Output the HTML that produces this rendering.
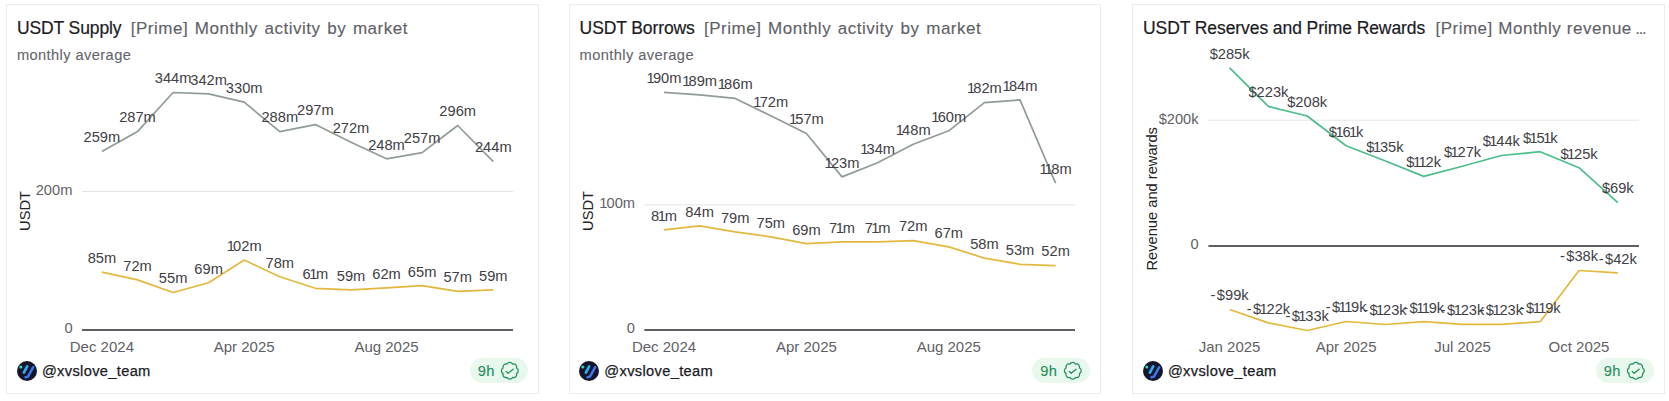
<!DOCTYPE html>
<html lang="en">
<head>
<meta charset="utf-8">
<title>USDT Prime charts</title>
<style>
html,body{margin:0;padding:0;background:#fff;}
body{width:1669px;height:401px;position:relative;overflow:hidden;font-family:"Liberation Sans",sans-serif;}
.card{position:absolute;top:4px;width:533px;height:390px;box-sizing:border-box;border:1px solid #ebebee;background:#fff;}
.title{position:absolute;top:18.3px;font-size:17.5px;letter-spacing:-0.1px;line-height:20px;white-space:nowrap;color:#1b1b1f;-webkit-text-stroke:0.2px #1b1b1f;}
.title .sub{color:#606067;-webkit-text-stroke:0.12px #606067;font-size:17px;letter-spacing:0.5px;word-spacing:1.5px;margin-left:9.3px;}
.ell{font-size:10.5px;font-weight:bold;letter-spacing:0;margin-left:-1.5px;}
.desc{position:absolute;top:46px;font-size:14.67px;line-height:18px;color:#64646b;-webkit-text-stroke:0.1px #64646b;letter-spacing:0.4px;white-space:nowrap;}
svg.chart{position:absolute;left:0;top:0;}
.dl{font-size:14.67px;fill:#404046;}
.ax{font-size:14.67px;fill:#5f5f66;}
.xl{font-size:15px;}
.yt{font-size:14.67px;fill:#222226;}
.grid{stroke:#e4e4e6;stroke-width:1;}
.axis{stroke:#5e5e65;stroke-width:2;}
.av{position:absolute;}
.user{position:absolute;font-size:14.67px;line-height:20px;color:#1b1b1f;letter-spacing:0.33px;-webkit-text-stroke:0.25px #1b1b1f;white-space:nowrap;}
.badge{position:absolute;width:58px;height:25px;border-radius:13px;background:#e9f8ec;color:#1f8f5f;font-size:14.67px;box-sizing:border-box;}
.badge span{position:absolute;left:7.8px;top:3.8px;line-height:18px;letter-spacing:0.3px;-webkit-text-stroke:0.12px #1f8f5f;}
.badge svg{position:absolute;left:30.2px;top:3.1px;}
</style>
</head>
<body>
<div class="card" style="left:6px"></div>
<div class="card" style="left:569px;width:532px"></div>
<div class="card" style="left:1132px"></div>

<div class="title" style="left:16.9px">USDT Supply<span class="sub">[Prime] Monthly activity by market</span></div>
<div class="desc" style="left:16.9px">monthly average</div>
<div class="title" style="left:579.6px">USDT Borrows<span class="sub">[Prime] Monthly activity by market</span></div>
<div class="desc" style="left:579.6px">monthly average</div>
<div class="title" style="left:1143.0px"><span style="letter-spacing:-0.08px">USDT Reserves and Prime Rewards</span><span class="sub" style="margin-left:10.3px;word-spacing:0.3px">[Prime] Monthly revenue <span class="ell">…</span></span></div>

<svg class="chart" width="1669" height="401" viewBox="0 0 1669 401" font-family="'Liberation Sans',sans-serif">

<line x1="82" x2="513" y1="191.5" y2="191.5" class="grid"/>
<line x1="82" x2="513" y1="330" y2="330" class="axis"/>
<text x="72.4" y="195" text-anchor="end" class="ax">200m</text>
<text x="72.6" y="333" text-anchor="end" class="ax">0</text>
<text transform="translate(30,211) rotate(-90)" text-anchor="middle" class="yt">USDT</text>
<text x="101.9" y="352.1" text-anchor="middle" class="ax xl">Dec 2024</text>
<text x="244.2" y="352.1" text-anchor="middle" class="ax xl">Apr 2025</text>
<text x="386.5" y="352.1" text-anchor="middle" class="ax xl">Aug 2025</text>
<polyline points="101.9,151.5 137.5,131.6 173.1,92.5 208.6,93.9 244.2,102.2 279.8,131.6 315.4,124.6 351.0,142.2 386.5,158.8 422.1,152.6 457.7,125.5 493.3,161.6" fill="none" stroke="#909c98" stroke-width="1.7" stroke-linejoin="round"/>
<polyline points="101.9,272.2 137.5,279.9 173.1,292.5 208.6,282.7 244.2,260.0 279.8,276.8 315.4,288.3 351.0,289.9 386.5,287.8 422.1,285.7 457.7,291.3 493.3,289.9" fill="none" stroke="#e3b83d" stroke-width="1.7" stroke-linejoin="round"/>
<text x="101.9" y="142.3" text-anchor="middle" class="dl">259m</text>
<text x="137.5" y="122.4" text-anchor="middle" class="dl">287m</text>
<text x="173.1" y="83.3" text-anchor="middle" class="dl">344m</text>
<text x="208.6" y="84.7" text-anchor="middle" class="dl">342m</text>
<text x="244.2" y="93.0" text-anchor="middle" class="dl">330m</text>
<text x="279.8" y="122.4" text-anchor="middle" class="dl">288m</text>
<text x="315.4" y="115.4" text-anchor="middle" class="dl">297m</text>
<text x="351.0" y="133.0" text-anchor="middle" class="dl">272m</text>
<text x="386.5" y="149.6" text-anchor="middle" class="dl">248m</text>
<text x="422.1" y="143.4" text-anchor="middle" class="dl">257m</text>
<text x="457.7" y="116.3" text-anchor="middle" class="dl">296m</text>
<text x="493.3" y="152.4" text-anchor="middle" class="dl">244m</text>
<text x="101.9" y="263.0" text-anchor="middle" class="dl">85m</text>
<text x="137.5" y="270.7" text-anchor="middle" class="dl">72m</text>
<text x="173.1" y="283.3" text-anchor="middle" class="dl">55m</text>
<text x="208.6" y="273.5" text-anchor="middle" class="dl">69m</text>
<text x="244.2" y="250.8" text-anchor="middle" class="dl"><tspan style="letter-spacing:-1.8px">1</tspan>02m</text>
<text x="279.8" y="267.6" text-anchor="middle" class="dl">78m</text>
<text x="315.4" y="279.1" text-anchor="middle" class="dl"><tspan style="letter-spacing:-1.5px">6</tspan><tspan style="letter-spacing:-1.2px">1</tspan>m</text>
<text x="351.0" y="280.7" text-anchor="middle" class="dl">59m</text>
<text x="386.5" y="278.6" text-anchor="middle" class="dl">62m</text>
<text x="422.1" y="276.5" text-anchor="middle" class="dl">65m</text>
<text x="457.7" y="282.1" text-anchor="middle" class="dl">57m</text>
<text x="493.3" y="280.7" text-anchor="middle" class="dl">59m</text>


<line x1="644.3" x2="1075" y1="204.9" y2="204.9" class="grid"/>
<line x1="644.3" x2="1075" y1="330" y2="330" class="axis"/>
<text x="635" y="208.2" text-anchor="end" class="ax"><tspan style="letter-spacing:-0.9px">1</tspan>00m</text>
<text x="635" y="332.8" text-anchor="end" class="ax">0</text>
<text transform="translate(592.6,211) rotate(-90)" text-anchor="middle" class="yt">USDT</text>
<text x="664.0" y="352.1" text-anchor="middle" class="ax xl">Dec 2024</text>
<text x="806.4" y="352.1" text-anchor="middle" class="ax xl">Apr 2025</text>
<text x="948.8" y="352.1" text-anchor="middle" class="ax xl">Aug 2025</text>
<polyline points="664.0,92.4 699.6,94.8 735.2,98.4 770.8,115.8 806.4,133.5 842.0,176.9 877.6,162.8 913.2,144.2 948.8,130.8 984.4,102.6 1020.0,99.9 1055.6,183.1" fill="none" stroke="#909c98" stroke-width="1.7" stroke-linejoin="round"/>
<polyline points="664.0,229.8 699.6,225.8 735.2,231.9 770.8,236.9 806.4,243.7 842.0,241.9 877.6,241.9 913.2,240.6 948.8,246.9 984.4,258.1 1020.0,264.3 1055.6,265.6" fill="none" stroke="#e3b83d" stroke-width="1.7" stroke-linejoin="round"/>
<text x="664.0" y="83.2" text-anchor="middle" class="dl"><tspan style="letter-spacing:-1.8px">1</tspan>90m</text>
<text x="699.6" y="85.6" text-anchor="middle" class="dl"><tspan style="letter-spacing:-1.8px">1</tspan>89m</text>
<text x="735.2" y="89.2" text-anchor="middle" class="dl"><tspan style="letter-spacing:-1.8px">1</tspan>86m</text>
<text x="770.8" y="106.6" text-anchor="middle" class="dl"><tspan style="letter-spacing:-1.8px">1</tspan>72m</text>
<text x="806.4" y="124.3" text-anchor="middle" class="dl"><tspan style="letter-spacing:-1.8px">1</tspan>57m</text>
<text x="842.0" y="167.7" text-anchor="middle" class="dl"><tspan style="letter-spacing:-1.8px">1</tspan>23m</text>
<text x="877.6" y="153.6" text-anchor="middle" class="dl"><tspan style="letter-spacing:-1.8px">1</tspan>34m</text>
<text x="913.2" y="135.0" text-anchor="middle" class="dl"><tspan style="letter-spacing:-1.8px">1</tspan>48m</text>
<text x="948.8" y="121.6" text-anchor="middle" class="dl"><tspan style="letter-spacing:-1.8px">1</tspan>60m</text>
<text x="984.4" y="93.4" text-anchor="middle" class="dl"><tspan style="letter-spacing:-1.8px">1</tspan>82m</text>
<text x="1020.0" y="90.7" text-anchor="middle" class="dl"><tspan style="letter-spacing:-1.8px">1</tspan>84m</text>
<text x="1055.6" y="173.9" text-anchor="middle" class="dl"><tspan style="letter-spacing:-3.2px">1</tspan><tspan style="letter-spacing:-1.2px">1</tspan>8m</text>
<text x="664.0" y="220.6" text-anchor="middle" class="dl"><tspan style="letter-spacing:-1.5px">8</tspan><tspan style="letter-spacing:-1.2px">1</tspan>m</text>
<text x="699.6" y="216.6" text-anchor="middle" class="dl">84m</text>
<text x="735.2" y="222.7" text-anchor="middle" class="dl">79m</text>
<text x="770.8" y="227.7" text-anchor="middle" class="dl">75m</text>
<text x="806.4" y="234.5" text-anchor="middle" class="dl">69m</text>
<text x="842.0" y="232.7" text-anchor="middle" class="dl"><tspan style="letter-spacing:-1.5px">7</tspan><tspan style="letter-spacing:-1.2px">1</tspan>m</text>
<text x="877.6" y="232.7" text-anchor="middle" class="dl"><tspan style="letter-spacing:-1.5px">7</tspan><tspan style="letter-spacing:-1.2px">1</tspan>m</text>
<text x="913.2" y="231.4" text-anchor="middle" class="dl">72m</text>
<text x="948.8" y="237.7" text-anchor="middle" class="dl">67m</text>
<text x="984.4" y="248.9" text-anchor="middle" class="dl">58m</text>
<text x="1020.0" y="255.1" text-anchor="middle" class="dl">53m</text>
<text x="1055.6" y="256.4" text-anchor="middle" class="dl">52m</text>


<line x1="1208.4" x2="1639" y1="120.2" y2="120.2" class="grid"/>
<line x1="1208.4" x2="1639" y1="246.1" y2="246.1" class="axis"/>
<text x="1198.6" y="123.8" text-anchor="end" class="ax">$200k</text>
<text x="1198.6" y="248.8" text-anchor="end" class="ax">0</text>
<text transform="translate(1156.6,198.8) rotate(-90)" text-anchor="middle" class="yt">Revenue and rewards</text>
<text x="1229.6" y="352.1" text-anchor="middle" class="ax xl">Jan 2025</text>
<text x="1346.1" y="352.1" text-anchor="middle" class="ax xl">Apr 2025</text>
<text x="1462.5" y="352.1" text-anchor="middle" class="ax xl">Jul 2025</text>
<text x="1579.0" y="352.1" text-anchor="middle" class="ax xl">Oct 2025</text>
<polyline points="1229.6,67.8 1268.4,106.4 1307.2,116.0 1346.1,145.7 1384.9,160.7 1423.7,176.4 1462.5,166.3 1501.3,155.5 1540.2,151.7 1579.0,167.7 1617.8,202.6" fill="none" stroke="#4dbd8b" stroke-width="1.7" stroke-linejoin="round"/>
<polyline points="1229.6,309.5 1268.4,322.9 1307.2,330.5 1346.1,321.5 1384.9,324.5 1423.7,321.7 1462.5,324.3 1501.3,324.3 1540.2,321.7 1579.0,270.5 1617.8,272.8" fill="none" stroke="#e3b83d" stroke-width="1.7" stroke-linejoin="round"/>
<text x="1229.6" y="58.6" text-anchor="middle" class="dl">$285k</text>
<text x="1268.4" y="97.2" text-anchor="middle" class="dl">$223k</text>
<text x="1307.2" y="106.8" text-anchor="middle" class="dl">$208k</text>
<text x="1346.1" y="136.5" text-anchor="middle" class="dl"><tspan style="letter-spacing:-1.5px">$</tspan><tspan style="letter-spacing:-1.2px">1</tspan><tspan style="letter-spacing:-1.5px">6</tspan><tspan style="letter-spacing:-1.2px">1</tspan>k</text>
<text x="1384.9" y="151.5" text-anchor="middle" class="dl"><tspan style="letter-spacing:-1.5px">$</tspan><tspan style="letter-spacing:-1.2px">1</tspan>35k</text>
<text x="1423.7" y="167.2" text-anchor="middle" class="dl"><tspan style="letter-spacing:-1.5px">$</tspan><tspan style="letter-spacing:-2.6px">1</tspan><tspan style="letter-spacing:-1.2px">1</tspan>2k</text>
<text x="1462.5" y="157.1" text-anchor="middle" class="dl"><tspan style="letter-spacing:-1.5px">$</tspan><tspan style="letter-spacing:-1.2px">1</tspan>27k</text>
<text x="1501.3" y="146.3" text-anchor="middle" class="dl"><tspan style="letter-spacing:-1.5px">$</tspan><tspan style="letter-spacing:-1.2px">1</tspan>44k</text>
<text x="1540.2" y="142.5" text-anchor="middle" class="dl"><tspan style="letter-spacing:-1.5px">$</tspan><tspan style="letter-spacing:-1.2px">1</tspan><tspan style="letter-spacing:-1.5px">5</tspan><tspan style="letter-spacing:-1.2px">1</tspan>k</text>
<text x="1579.0" y="158.5" text-anchor="middle" class="dl"><tspan style="letter-spacing:-1.5px">$</tspan><tspan style="letter-spacing:-1.2px">1</tspan>25k</text>
<text x="1617.8" y="193.4" text-anchor="middle" class="dl">$69k</text>
<text x="1229.6" y="300.3" text-anchor="middle" class="dl"><tspan style="letter-spacing:1.4px">-</tspan>$99k</text>
<text x="1268.4" y="313.7" text-anchor="middle" class="dl"><tspan style="letter-spacing:1.4px">-</tspan><tspan style="letter-spacing:-1.5px">$</tspan><tspan style="letter-spacing:-1.2px">1</tspan>22k</text>
<text x="1307.2" y="321.3" text-anchor="middle" class="dl"><tspan style="letter-spacing:1.4px">-</tspan><tspan style="letter-spacing:-1.5px">$</tspan><tspan style="letter-spacing:-1.2px">1</tspan>33k</text>
<text x="1346.1" y="312.3" text-anchor="middle" class="dl"><tspan style="letter-spacing:1.4px">-</tspan><tspan style="letter-spacing:-1.5px">$</tspan><tspan style="letter-spacing:-2.6px">1</tspan><tspan style="letter-spacing:-1.2px">1</tspan>9k</text>
<text x="1384.9" y="315.3" text-anchor="middle" class="dl"><tspan style="letter-spacing:1.4px">-</tspan><tspan style="letter-spacing:-1.5px">$</tspan><tspan style="letter-spacing:-1.2px">1</tspan>23k</text>
<text x="1423.7" y="312.5" text-anchor="middle" class="dl"><tspan style="letter-spacing:1.4px">-</tspan><tspan style="letter-spacing:-1.5px">$</tspan><tspan style="letter-spacing:-2.6px">1</tspan><tspan style="letter-spacing:-1.2px">1</tspan>9k</text>
<text x="1462.5" y="315.1" text-anchor="middle" class="dl"><tspan style="letter-spacing:1.4px">-</tspan><tspan style="letter-spacing:-1.5px">$</tspan><tspan style="letter-spacing:-1.2px">1</tspan>23k</text>
<text x="1501.3" y="315.1" text-anchor="middle" class="dl"><tspan style="letter-spacing:1.4px">-</tspan><tspan style="letter-spacing:-1.5px">$</tspan><tspan style="letter-spacing:-1.2px">1</tspan>23k</text>
<text x="1540.2" y="312.5" text-anchor="middle" class="dl"><tspan style="letter-spacing:1.4px">-</tspan><tspan style="letter-spacing:-1.5px">$</tspan><tspan style="letter-spacing:-2.6px">1</tspan><tspan style="letter-spacing:-1.2px">1</tspan>9k</text>
<text x="1579.0" y="261.3" text-anchor="middle" class="dl"><tspan style="letter-spacing:1.4px">-</tspan>$38k</text>
<text x="1617.8" y="263.6" text-anchor="middle" class="dl"><tspan style="letter-spacing:1.4px">-</tspan>$42k</text>

</svg>

<svg class="av" style="left:17px;top:361px" width="20" height="20" viewBox="0 0 20 20">
  <circle cx="10" cy="10" r="10" fill="#14172b"/>
  <circle cx="3.8" cy="6" r="1.55" fill="#2fd9c4"/>
  <path d="M10.2 5.4 L6.9 11.6" stroke="#2eaef4" stroke-width="2.7" stroke-linecap="round" fill="none"/>
  <path d="M16.2 6.2 L11.0 15.6 L8.6 16.3" stroke="#3f74f3" stroke-width="2.5" stroke-linecap="round" stroke-linejoin="round" fill="none"/>
</svg>
<div class="user" style="left:41.9px;top:361px">@xvslove_team</div>
<div class="badge" style="left:470px;top:358px"><span>9h</span>
<svg width="19.6" height="19.6" viewBox="0 0 24 24" fill="none" stroke="#1f8f5f" stroke-width="1.55" stroke-linecap="round" stroke-linejoin="round">
<path d="M3.85 8.62a3.7 3.7 0 0 1 4.78-4.77 3.7 3.7 0 0 1 6.74 0 3.7 3.7 0 0 1 4.78 4.78 3.7 3.7 0 0 1 0 6.74 3.7 3.7 0 0 1-4.77 4.78 3.7 3.7 0 0 1-6.75 0 3.7 3.7 0 0 1-4.78-4.77 3.7 3.7 0 0 1 0-6.76Z"/>
<path d="M7.64 12.73 L9.94 15.03 L16.12 10.06"/>
</svg></div>


<svg class="av" style="left:579.4px;top:361px" width="20" height="20" viewBox="0 0 20 20">
  <circle cx="10" cy="10" r="10" fill="#14172b"/>
  <circle cx="3.8" cy="6" r="1.55" fill="#2fd9c4"/>
  <path d="M10.2 5.4 L6.9 11.6" stroke="#2eaef4" stroke-width="2.7" stroke-linecap="round" fill="none"/>
  <path d="M16.2 6.2 L11.0 15.6 L8.6 16.3" stroke="#3f74f3" stroke-width="2.5" stroke-linecap="round" stroke-linejoin="round" fill="none"/>
</svg>
<div class="user" style="left:604.3px;top:361px">@xvslove_team</div>
<div class="badge" style="left:1032.4px;top:358px"><span>9h</span>
<svg width="19.6" height="19.6" viewBox="0 0 24 24" fill="none" stroke="#1f8f5f" stroke-width="1.55" stroke-linecap="round" stroke-linejoin="round">
<path d="M3.85 8.62a3.7 3.7 0 0 1 4.78-4.77 3.7 3.7 0 0 1 6.74 0 3.7 3.7 0 0 1 4.78 4.78 3.7 3.7 0 0 1 0 6.74 3.7 3.7 0 0 1-4.77 4.78 3.7 3.7 0 0 1-6.75 0 3.7 3.7 0 0 1-4.78-4.77 3.7 3.7 0 0 1 0-6.76Z"/>
<path d="M7.64 12.73 L9.94 15.03 L16.12 10.06"/>
</svg></div>


<svg class="av" style="left:1143px;top:361px" width="20" height="20" viewBox="0 0 20 20">
  <circle cx="10" cy="10" r="10" fill="#14172b"/>
  <circle cx="3.8" cy="6" r="1.55" fill="#2fd9c4"/>
  <path d="M10.2 5.4 L6.9 11.6" stroke="#2eaef4" stroke-width="2.7" stroke-linecap="round" fill="none"/>
  <path d="M16.2 6.2 L11.0 15.6 L8.6 16.3" stroke="#3f74f3" stroke-width="2.5" stroke-linecap="round" stroke-linejoin="round" fill="none"/>
</svg>
<div class="user" style="left:1167.9px;top:361px">@xvslove_team</div>
<div class="badge" style="left:1596px;top:358px"><span>9h</span>
<svg width="19.6" height="19.6" viewBox="0 0 24 24" fill="none" stroke="#1f8f5f" stroke-width="1.55" stroke-linecap="round" stroke-linejoin="round">
<path d="M3.85 8.62a3.7 3.7 0 0 1 4.78-4.77 3.7 3.7 0 0 1 6.74 0 3.7 3.7 0 0 1 4.78 4.78 3.7 3.7 0 0 1 0 6.74 3.7 3.7 0 0 1-4.77 4.78 3.7 3.7 0 0 1-6.75 0 3.7 3.7 0 0 1-4.78-4.77 3.7 3.7 0 0 1 0-6.76Z"/>
<path d="M7.64 12.73 L9.94 15.03 L16.12 10.06"/>
</svg></div>

</body>
</html>
